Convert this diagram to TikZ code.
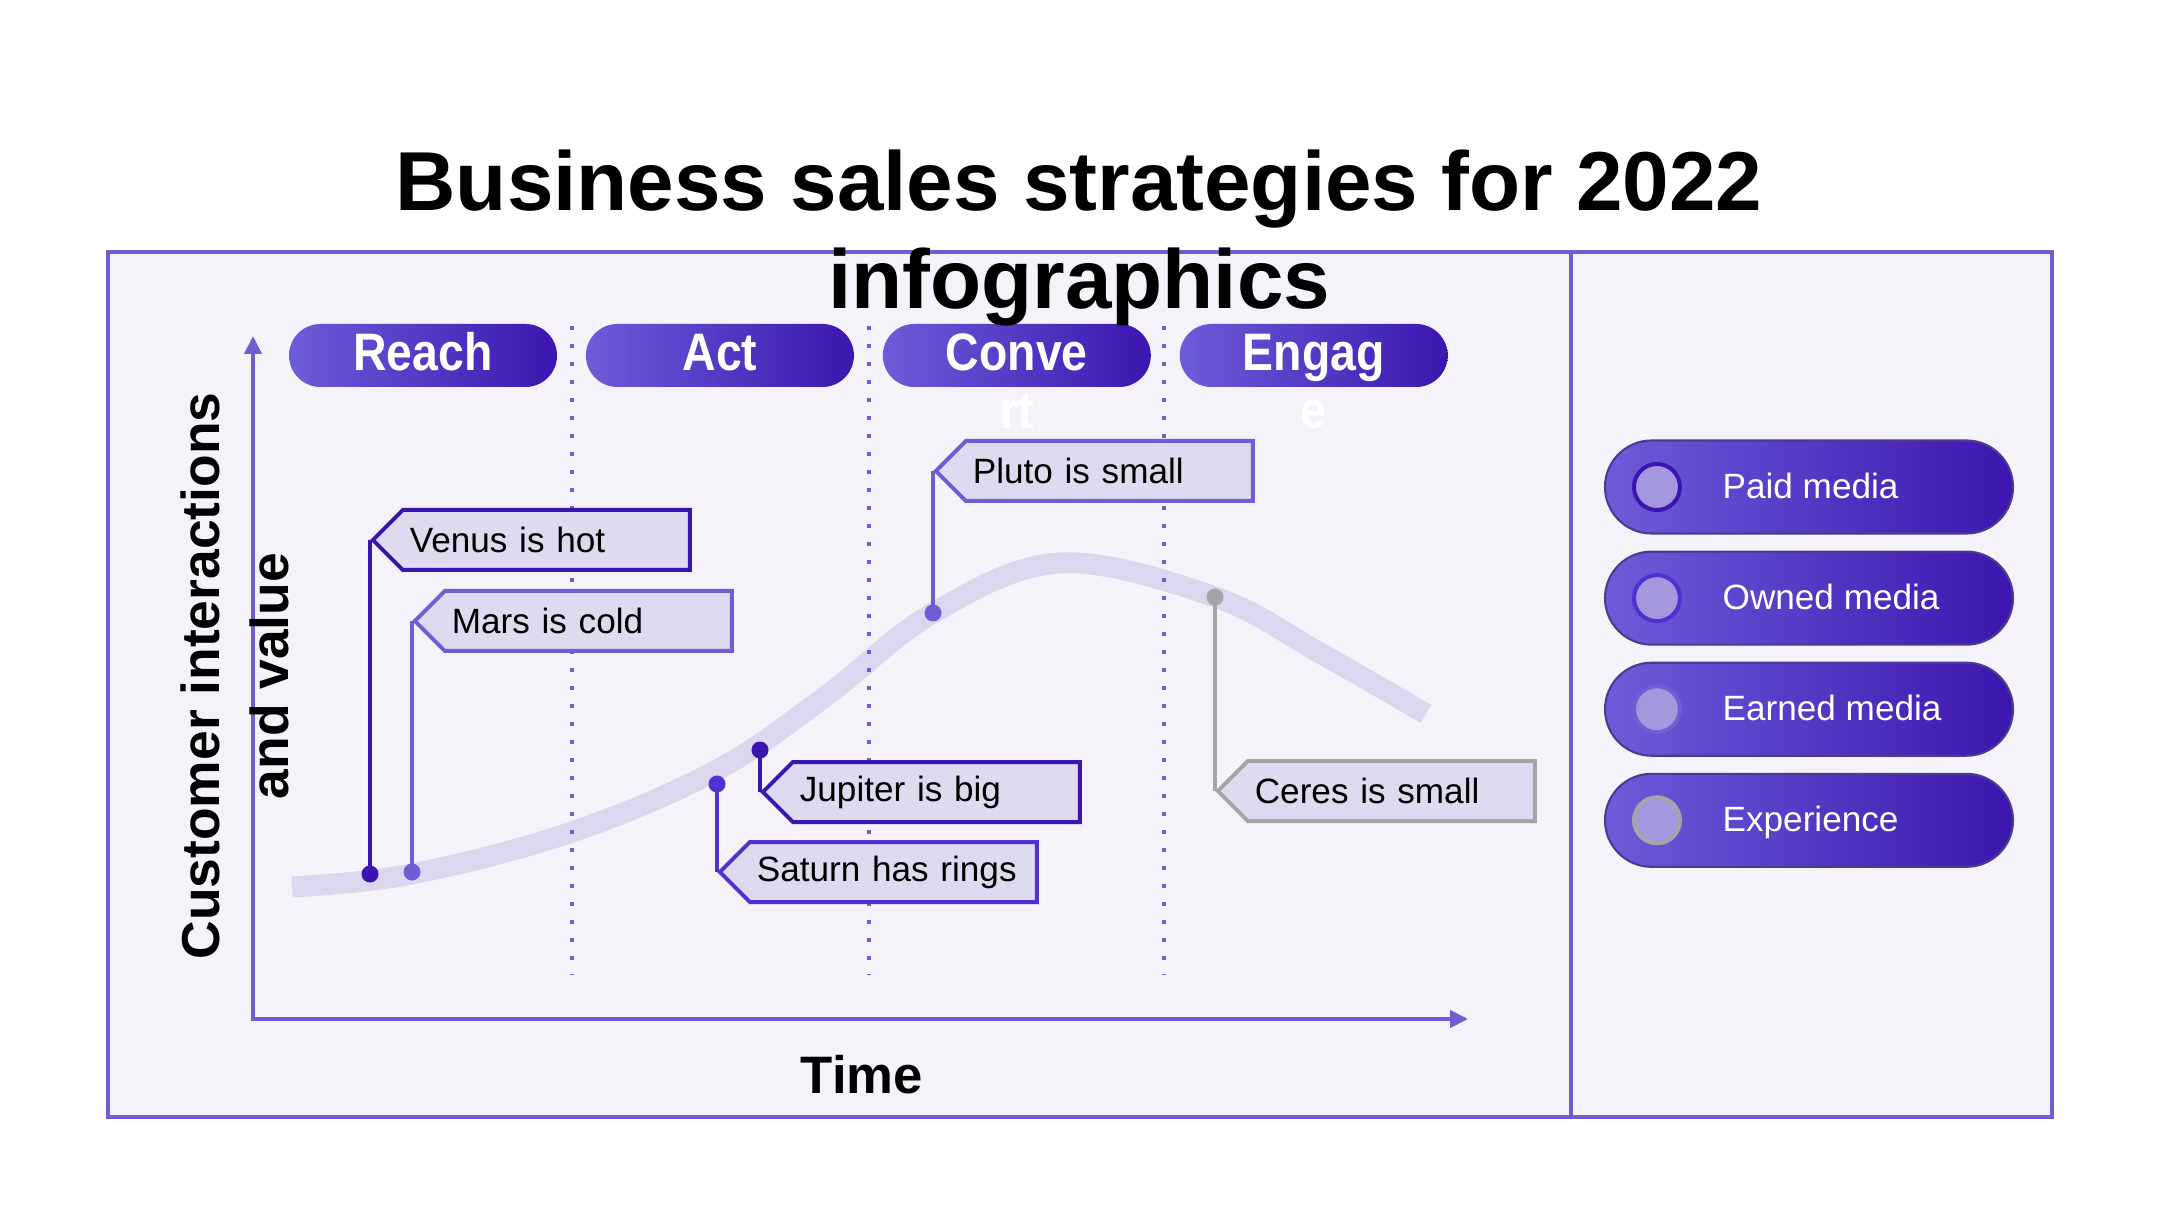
\documentclass[tikz,border=0pt]{standalone}
\usepackage{fontspec}
\setmainfont{Liberation Sans}
\newfontfamily\narrowsans{Liberation Sans}[FakeStretch=0.88]
\usetikzlibrary{positioning,shapes.symbols,arrows.meta}

\definecolor{panelbg}{HTML}{F5F3F9}
\definecolor{framecol}{HTML}{6E5DD5}
\definecolor{bandcol}{HTML}{DCD7EE}
\definecolor{tagfill}{HTML}{DEDAEF}
\definecolor{deepindigo}{HTML}{3A15B0}
\definecolor{midviolet}{HTML}{5230CF}
\definecolor{greytag}{HTML}{A5A5A5}
\definecolor{pillleft}{HTML}{6D5CD9}
\definecolor{pillright}{HTML}{3B16AF}
\definecolor{pilledge}{HTML}{4A3B8F}
\definecolor{dotfill}{HTML}{A597DE}

% text that runs out of its pill
\newcommand{\wrapline}[2]{\raisebox{0pt}[\height][0pt]{\begin{tabular}[t]{@{}c@{}}#1\\#2\end{tabular}}}

\begin{document}
\begin{tikzpicture}[
  frameline/.style={draw=framecol, line width=0.045cm},
  guide/.style={draw=framecol, line width=0.04cm, dash pattern=on 0.04cm off 0.14cm},
  axisline/.style={draw=framecol, line width=0.04cm},
  band/.style={draw=bandcol, line width=0.21cm},
  stagepill/.style={minimum width=2.68cm, minimum height=0.63cm, rounded corners=0.315cm,
    left color=pillleft, right color=pillright, text=white, inner sep=0pt,
    text height=0.31cm, text depth=0pt, font=\narrowsans\bfseries\fontsize{15}{16.5}\selectfont},
  tagbox/.style={shape=signal, signal to=west, signal pointer angle=90, draw=#1,
    line width=0.04cm, fill=tagfill, minimum height=0.6cm, text width=2.73cm,
    inner xsep=0.07cm, inner ysep=0pt, align=left, anchor=west, font=\fontsize{10}{12}\selectfont},
  lead/.style={draw=#1, line width=0.04cm},
  mediapill/.style={minimum width=4.08cm, minimum height=0.93cm, rounded corners=0.465cm,
    left color=pillleft, right color=pillright, draw=pilledge, line width=0.6pt, inner sep=0pt},
  mediadot/.style={circle, draw=#1, line width=0.04cm, fill=dotfill, minimum size=0.46cm, inner sep=0pt},
  medialabel/.style={text=white, inner sep=0pt, text height=0.23cm, text depth=0pt, font=\fontsize{10}{12}\selectfont}
]
\useasboundingbox (0,0) rectangle (21.6,12.15);

% panel
\draw[frameline, fill=panelbg] (1.08,0.98) rectangle (20.52,9.63);
\draw[frameline] (15.71,0.98) -- (15.71,9.63);

% value curve
\draw[band] plot[smooth, tension=0.6] coordinates {(2.92,3.28) (4.12,3.41) (5.72,3.83) (7.17,4.45) (8.26,5.19) (9.33,6.02) (10.60,6.52) (12.15,6.18) (13.20,5.62) (14.26,5.01)};

% stage dividers
\draw[guide] (5.72,8.89) -- (5.72,2.41);
\draw[guide] (8.69,8.89) -- (8.69,2.41);
\draw[guide] (11.64,8.89) -- (11.64,2.41);

% axes
\coordinate (ytip) at (2.53,8.79);
\coordinate (xtip) at (14.68,1.96);
\draw[axisline, {Triangle[length=0.18cm,width=0.17cm]}-{Triangle[length=0.18cm,width=0.17cm]}] (ytip) |- (xtip);

% stages
\node[stagepill] (reach) at (4.23,8.595) {Reach};
\node[stagepill, right=0.275cm of reach] (act) {Act};
\node[stagepill, right=0.275cm of act] (convert) {\wrapline{Conve}{rt}};
\node[stagepill, right=0.275cm of convert] (engage) {\wrapline{Engag}{e}};

% callouts
\coordinate (venusdot) at (3.70,3.41);
\coordinate (marsdot) at (4.12,3.43);
\coordinate (jupiterdot) at (7.60,4.65);
\coordinate (saturndot) at (7.17,4.31);
\coordinate (plutodot) at (9.33,6.02);
\coordinate (ceresdot) at (12.15,6.18);

\node[tagbox=deepindigo] (venus) at (3.70,6.75) {Venus is hot};
\node[tagbox=framecol] (mars) at (4.12,5.94) {Mars is cold};
\node[tagbox=deepindigo] (jupiter) at (7.60,4.23) {Jupiter is big};
\node[tagbox=midviolet] (saturn) at (7.17,3.43) {Saturn has rings};
\node[tagbox=framecol] (pluto) at (9.33,7.44) {Pluto is small};
\node[tagbox=greytag] (ceres) at (12.15,4.24) {Ceres is small};

\draw[lead=deepindigo] (venusdot) -- (venus.west);
\draw[lead=framecol] (marsdot) -- (mars.west);
\draw[lead=deepindigo] (jupiterdot) -- (jupiter.west);
\draw[lead=midviolet] (saturndot) -- (saturn.west);
\draw[lead=framecol] (plutodot) -- (pluto.west);
\draw[lead=greytag] (ceresdot) -- (ceres.west);

\fill[deepindigo] (venusdot) circle (0.085);
\fill[framecol] (marsdot) circle (0.085);
\fill[deepindigo] (jupiterdot) circle (0.085);
\fill[midviolet] (saturndot) circle (0.085);
\fill[framecol] (plutodot) circle (0.085);
\fill[greytag] (ceresdot) circle (0.085);

% legend
\node[mediapill] (paid) at (18.09,7.28) {};
\node[mediapill, below=0.16cm of paid] (owned) {};
\node[mediapill, below=0.16cm of owned] (earned) {};
\node[mediapill, below=0.16cm of earned] (experience) {};

\node[mediadot=deepindigo] (paiddot) at ([xshift=0.53cm]paid.west) {};
\node[mediadot=midviolet] (owneddot) at ([xshift=0.53cm]owned.west) {};
\node[mediadot=framecol] (earneddot) at ([xshift=0.53cm]earned.west) {};
\node[mediadot=greytag] (experiencedot) at ([xshift=0.53cm]experience.west) {};

\node[medialabel, right=0.4cm of paiddot] (paidtext) {Paid media};
\node[medialabel, right=0.4cm of owneddot] (ownedtext) {Owned media};
\node[medialabel, right=0.4cm of earneddot] (earnedtext) {Earned media};
\node[medialabel, right=0.4cm of experiencedot] (experiencetext) {Experience};

% axis labels
\node[rotate=90, align=center, inner sep=0pt, font=\bfseries\fontsize{15.2}{19.6}\selectfont] (valuelabel) at (2.345,5.39) {Customer interactions\\and value};
\node[inner sep=0pt, font=\bfseries\fontsize{15}{18}\selectfont] (timelabel) at (8.62,1.405) {Time};

% title
\node[anchor=north, align=center, inner sep=0pt, font=\bfseries\fontsize{23.8}{28}\selectfont] (title) at (10.79,10.66) {Business sales strategies for 2022\\infographics};
\end{tikzpicture}
\end{document}
